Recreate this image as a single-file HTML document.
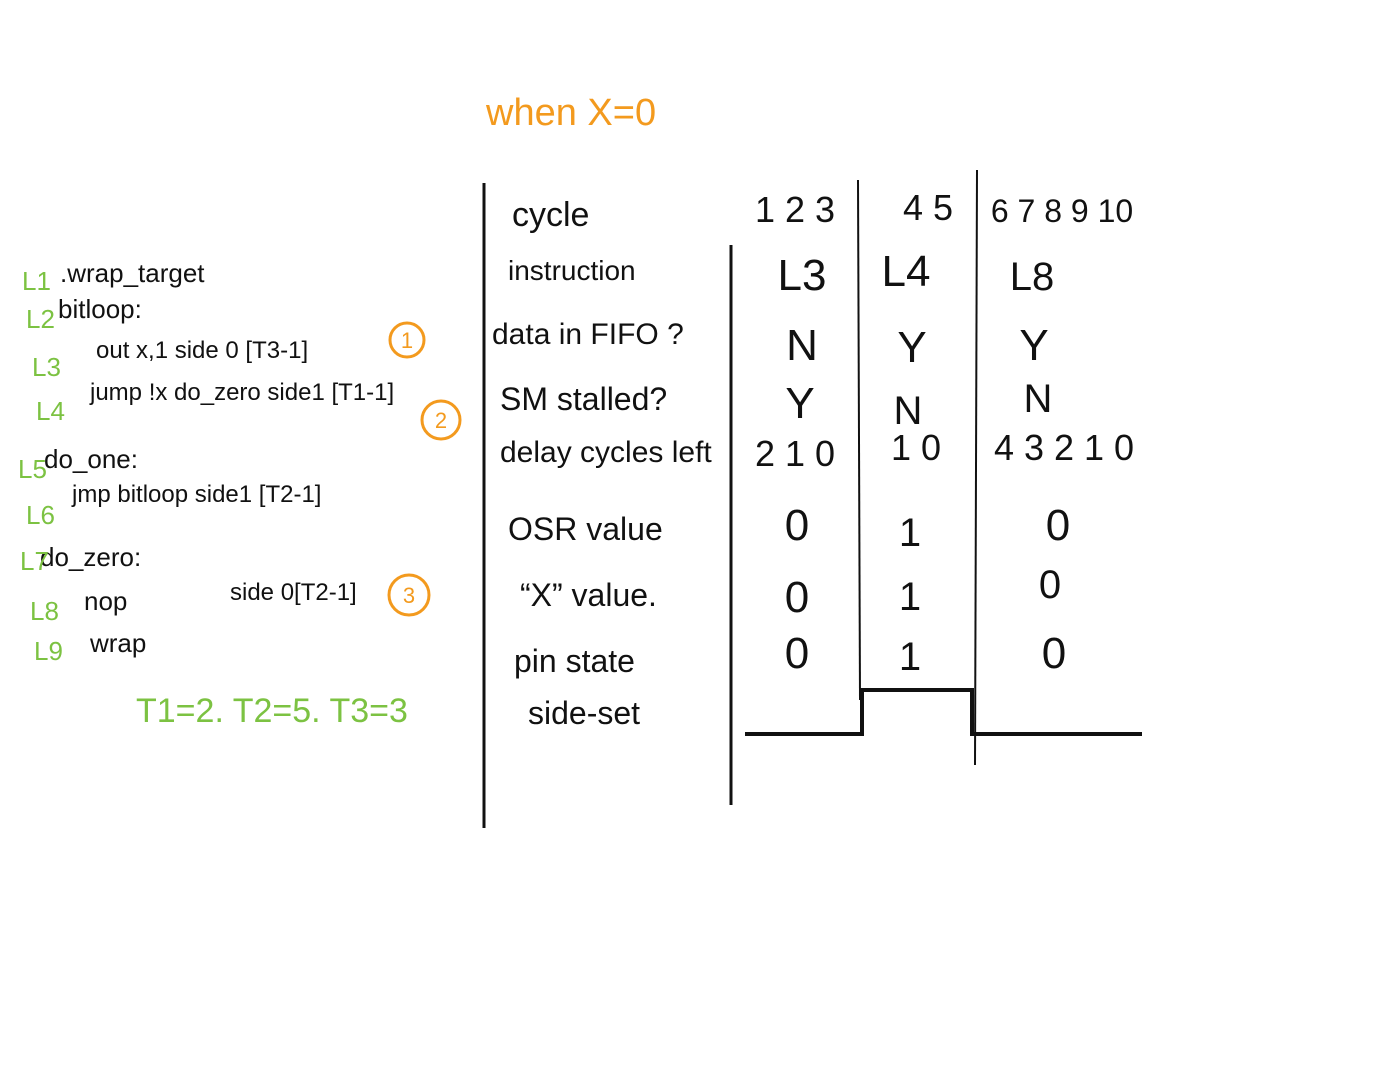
<!DOCTYPE html>
<html><head><meta charset="utf-8"><style>
html,body{margin:0;padding:0;background:#fff;}
svg{display:block;font-family:"Liberation Sans",sans-serif;}
</style></head><body>
<svg width="1394" height="1079" viewBox="0 0 1394 1079">
<text x="486" y="125" font-size="38" fill="#f39a1e">when X=0</text>
<!-- left code -->
<g font-size="26" fill="#111">
<text x="60" y="282">.wrap_target</text>
<text x="58" y="318">bitloop:</text>
<text x="96" y="358" font-size="24">out x,1   side 0 [T3-1]</text>
<text x="90" y="400" font-size="24">jump !x do_zero  side1 [T1-1]</text>
<text x="44" y="468">do_one:</text>
<text x="72" y="502" font-size="24">jmp bitloop side1 [T2-1]</text>
<text x="40" y="566">do_zero:</text>
<text x="84" y="610">nop</text>
<text x="230" y="600" font-size="24">side 0[T2-1]</text>
<text x="90" y="652">wrap</text>
</g>
<g font-size="26" fill="#7cc242">
<text x="22" y="290">L1</text>
<text x="26" y="328">L2</text>
<text x="32" y="376">L3</text>
<text x="36" y="420">L4</text>
<text x="18" y="478">L5</text>
<text x="26" y="524">L6</text>
<text x="20" y="570">L7</text>
<text x="30" y="620">L8</text>
<text x="34" y="660">L9</text>
<text x="136" y="722" font-size="34">T1=2. T2=5. T3=3</text>
</g>
<g fill="none" stroke="#f39a1e" stroke-width="3">
<circle cx="407" cy="340" r="17"/>
<circle cx="441" cy="420" r="19"/>
<circle cx="409" cy="595" r="20"/>
</g>
<g font-size="22" fill="#f39a1e" text-anchor="middle">
<text x="407" y="348">1</text><text x="441" y="428">2</text><text x="409" y="603">3</text>
</g>
<!-- table lines -->
<g stroke="#111" stroke-width="3" fill="none">
<line x1="484" y1="183" x2="484" y2="828"/>
<line x1="731" y1="245" x2="731" y2="805"/>
<line x1="858" y1="180" x2="860" y2="700" stroke-width="2"/>
<line x1="977" y1="170" x2="975" y2="765" stroke-width="2"/>
<polyline id="wave" stroke-width="4"/>
</g>
<g font-size="34" fill="#111">
<text x="512" y="226">cycle</text>
<text x="508" y="280" font-size="28">instruction</text>
<text x="492" y="344" font-size="30">data in FIFO ?</text>
<text x="500" y="410" font-size="32">SM stalled?</text>
<text x="500" y="462" font-size="30">delay cycles left</text>
<text x="508" y="540" font-size="32">OSR value</text>
<text x="520" y="606" font-size="32">“X” value.</text>
<text x="514" y="672" font-size="32">pin state</text>
<text x="528" y="724" font-size="32">side-set</text>
</g>
<g font-size="36" fill="#111" text-anchor="middle">
<text x="795" y="222">1 2 3</text>
<text x="928" y="220">4 5</text>
<text x="1062" y="222" font-size="32">6 7 8 9 10</text>
<text x="802" y="290" font-size="44">L3</text>
<text x="906" y="286" font-size="44">L4</text>
<text x="1032" y="290" font-size="40">L8</text>
<text x="802" y="360" font-size="44">N</text>
<text x="912" y="362" font-size="44">Y</text>
<text x="1034" y="360" font-size="44">Y</text>
<text x="800" y="418" font-size="44">Y</text>
<text x="908" y="424" font-size="40">N</text>
<text x="1038" y="412" font-size="40">N</text>
<text x="795" y="466">2 1 0</text>
<text x="916" y="460">1 0</text>
<text x="1064" y="460">4 3 2 1 0</text>
<text x="797" y="540" font-size="44">0</text>
<text x="910" y="546" font-size="40">1</text>
<text x="1058" y="540" font-size="44">0</text>
<text x="797" y="612" font-size="44">0</text>
<text x="910" y="610" font-size="40">1</text>
<text x="1050" y="598" font-size="40">0</text>
<text x="797" y="668" font-size="44">0</text>
<text x="910" y="670" font-size="40">1</text>
<text x="1054" y="668" font-size="44">0</text>
</g>
</svg>
<script>
const waveEdges = [745, 862, 972, 1142];
const waveLevels = [0, 1, 0];
const yLow = 734, yHigh = 690;
function y(v){ return v ? yHigh : yLow; }
let pts = [];
for (let i = 0; i < waveLevels.length; i++) {
  pts.push(waveEdges[i] + ',' + y(waveLevels[i]));
  pts.push(waveEdges[i+1] + ',' + y(waveLevels[i]));
}
document.getElementById('wave').setAttribute('points', pts.join(' '));
</script>
</body></html>
